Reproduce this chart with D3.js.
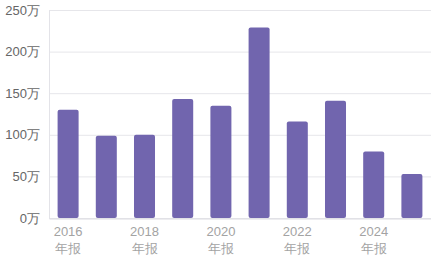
<!DOCTYPE html>
<html>
<head>
<meta charset="utf-8">
<script src="https://cdn.jsdelivr.net/npm/d3@7"></script>
<style>
  body { margin: 0; background: #fff; }
  svg { display: block; font-family: "Noto Sans CJK SC", "Noto Sans", sans-serif; }
</style>
</head>
<body>
<script>
// data
let years = ["2016", "2017", "2018", "2019", "2020", "2021", "2022", "2023", "2024", "2025"]
let values = [130, 99, 100, 143, 135, 229, 116, 141, 80, 53]   // 万
let yTicks = [0, 50, 100, 150, 200, 250]
let shownYears = ["2016", "2018", "2020", "2022", "2024"]

let width = 431
let height = 260
let margin = { top: 10, right: 0, bottom: 42, left: 49 }

let svg = d3.select('body').append('svg')
    .attr('width', width)
    .attr('height', height)

let xScale = d3.scaleBand()
    .domain(years)
    .range([margin.left, width - margin.right])
    .paddingInner(0.45)
    .paddingOuter(0.225)

let yScale = d3.scaleLinear()
    .domain([0, 250])
    .range([height - margin.bottom, margin.top])

// grid lines
svg.append('g')
    .selectAll('line')
    .data(yTicks)
    .enter()
    .append('line')
    .attr('x1', margin.left)
    .attr('x2', width - margin.right)
    .attr('y1', d => yScale(d) + 0.5)
    .attr('y2', d => yScale(d) + 0.5)
    .attr('stroke', '#e6e6ea')
    .attr('stroke-width', 1)

// y axis
let yAxis = d3.axisLeft(yScale)
    .tickValues(yTicks)
    .tickSize(0)
    .tickPadding(9)
    .tickFormat(d => d + '万')

svg.append('g')
    .attr('transform', 'translate(' + margin.left + ', 0)')
    .call(yAxis)
    .call(g => g.select('.domain').attr('stroke', '#e3e3e8'))
    .call(g => g.selectAll('text')
        .attr('fill', '#666')
        .attr('font-size', 13))

// bars
svg.append('g')
    .selectAll('rect')
    .data(values)
    .enter()
    .append('rect')
    .attr('x', (d, i) => xScale(years[i]))
    .attr('y', d => yScale(d))
    .attr('width', xScale.bandwidth())
    .attr('height', d => yScale(0) - yScale(d))
    .attr('rx', 2)
    .attr('fill', '#7165ae')

// x axis
let xAxis = d3.axisBottom(xScale)
    .tickValues(shownYears)
    .tickSize(0)
    .tickPadding(6)
    .tickFormat('')

let gx = svg.append('g')
    .attr('transform', 'translate(0, ' + (yScale(0) + 0.5) + ')')
    .call(xAxis)

gx.select('.domain').attr('stroke', '#dcdce2')

gx.selectAll('.tick text').remove()
gx.selectAll('.tick')
    .append('text')
    .attr('fill', '#a3a3a3')
    .attr('font-size', 13)
    .attr('text-anchor', 'middle')
    .each(function(d) {
        let t = d3.select(this)
        t.append('tspan').attr('x', 0).attr('y', 17).text(d)
        t.append('tspan').attr('x', 0).attr('y', 34).text('年报')
    })
</script>
</body>
</html>
